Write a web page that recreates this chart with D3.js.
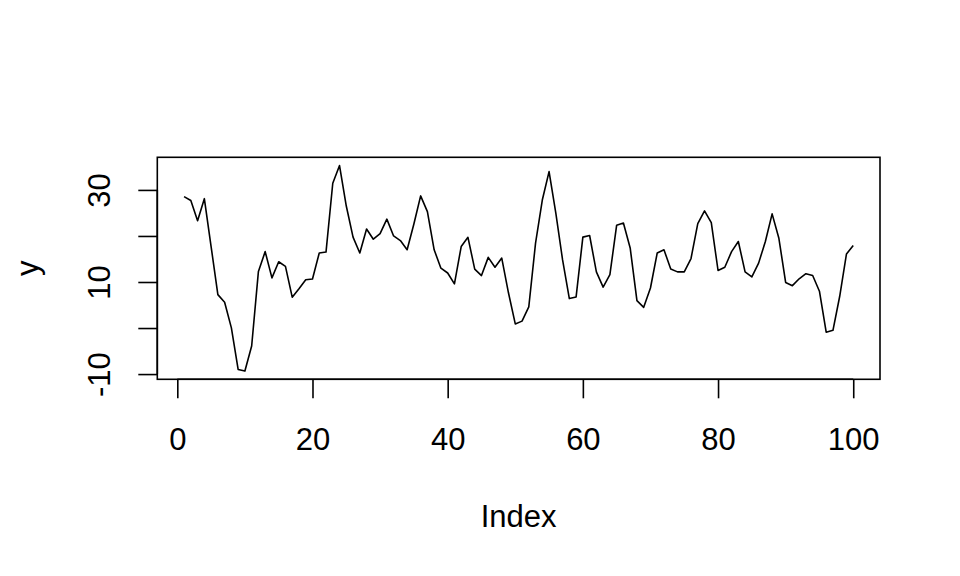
<!DOCTYPE html>
<html>
<head>
<meta charset="utf-8">
<script src="https://cdn.jsdelivr.net/npm/d3@7"></script>
<style>
  html, body { margin: 0; padding: 0; background: #fff; }
  svg { display: block; }
  text { font-family: "Liberation Sans", Arial, Helvetica, sans-serif; fill: #000; }
</style>
</head>
<body>
<svg id="chart" width="960" height="576"></svg>
<script>
// ---- data ----
const yValues = [
  28.55, 27.7, 23.3, 28.1, 17.7, 7.26, 5.6, 0.04, -8.99, -9.35,
  -3.9, 12.3, 16.6, 10.9, 14.4, 13.4, 6.7, 8.55, 10.5, 10.65,
  16.3, 16.5, 31.45, 35.3, 26.5, 19.75, 16.3, 21.5, 19.3, 20.5,
  23.65, 20.0, 19.0, 17.0, 22.6, 28.7, 25.3, 17.0, 13.0, 11.95,
  9.6, 17.7, 19.7, 12.8, 11.4, 15.35, 13.2, 15.2, 7.6, 0.9,
  1.5, 4.6, 18.45, 27.8, 33.97, 24.95, 14.8, 6.4, 6.75, 19.75,
  20.1, 12.2, 8.9, 11.6, 22.35, 22.8, 17.4, 5.95, 4.5, 8.7,
  16.3, 17.0, 12.8, 12.2, 12.2, 15.1, 22.7, 25.45, 22.9, 12.5,
  13.2, 16.6, 18.8, 12.2, 11.1, 14.1, 18.8, 24.8, 19.5, 9.9,
  9.2, 10.7, 11.8, 11.4, 8.0, -0.9, -0.5, 6.9, 16.1, 17.95
];
const indexValues = yValues.map((_, i) => i + 1);
const xTicks = [0, 20, 40, 60, 80, 100];
const yTicks = [-10, 0, 10, 20, 30];
const yTickLabels = ["-10", "", "10", "", "30"];
const xLabel = "Index";
const yLabel = "y";

// ---- layout ----
const svg = d3.select("#chart");
const mLeft = 157.3, mRight = 880, mTop = 157.3, mBottom = 379.3;
const fontSize = 31;
const tickLen = 19;
const sw = 1.6;

function rExtent(arr) {
  const mn = d3.min(arr), mx = d3.max(arr);
  const r = mx - mn;
  return [mn - 0.04 * r, mx + 0.04 * r];
}

const x = d3.scaleLinear().domain(rExtent(indexValues)).range([mLeft, mRight]);
const y = d3.scaleLinear().domain(rExtent(yValues)).range([mBottom, mTop]);

// data line
const line = d3.line().x((d, i) => x(indexValues[i])).y(d => y(d));
svg.append("path")
  .datum(yValues)
  .attr("d", line)
  .attr("fill", "none")
  .attr("stroke", "#000")
  .attr("stroke-width", sw)
  .attr("stroke-linejoin", "round");

// box
svg.append("rect")
  .attr("x", mLeft).attr("y", mTop)
  .attr("width", mRight - mLeft).attr("height", mBottom - mTop)
  .attr("fill", "none").attr("stroke", "#000").attr("stroke-width", sw);

// x axis
const xAxis = d3.axisBottom(x).tickValues(xTicks).tickSize(tickLen).tickPadding(0).tickFormat(d3.format("d"));
const gx = svg.append("g").attr("transform", `translate(0,${mBottom})`).call(xAxis);
gx.select(".domain").attr("d", `M${x(xTicks[0])},0H${x(xTicks[xTicks.length-1])}`).attr("stroke-width", sw);
gx.selectAll(".tick line").attr("stroke-width", sw);
gx.selectAll(".tick text")
  .attr("font-size", fontSize)
  .attr("font-family", "Liberation Sans, Arial, sans-serif")
  .attr("y", 450 - mBottom)
  .attr("dy", null);

// y axis
const yAxis = d3.axisLeft(y).tickValues(yTicks).tickSize(tickLen).tickPadding(0)
  .tickFormat((d, i) => yTickLabels[i]);
const gy = svg.append("g").attr("transform", `translate(${mLeft},0)`).call(yAxis);
gy.select(".domain").attr("d", `M0,${y(yTicks[0])}V${y(yTicks[yTicks.length-1])}`).attr("stroke-width", sw);
gy.selectAll(".tick line").attr("stroke-width", sw);
gy.selectAll(".tick text")
  .attr("font-size", fontSize)
  .attr("font-family", "Liberation Sans, Arial, sans-serif")
  .attr("x", null).attr("dy", null)
  .attr("text-anchor", "middle")
  .attr("transform", `translate(${110 - mLeft},0) rotate(-90)`);

// axis titles
svg.append("text")
  .attr("x", (mLeft + mRight) / 2).attr("y", 527)
  .attr("text-anchor", "middle").attr("font-size", fontSize)
  .text(xLabel);
svg.append("text")
  .attr("transform", `translate(38,${(mTop + mBottom) / 2}) rotate(-90)`)
  .attr("text-anchor", "middle").attr("font-size", fontSize)
  .text(yLabel);
</script>
</body>
</html>
